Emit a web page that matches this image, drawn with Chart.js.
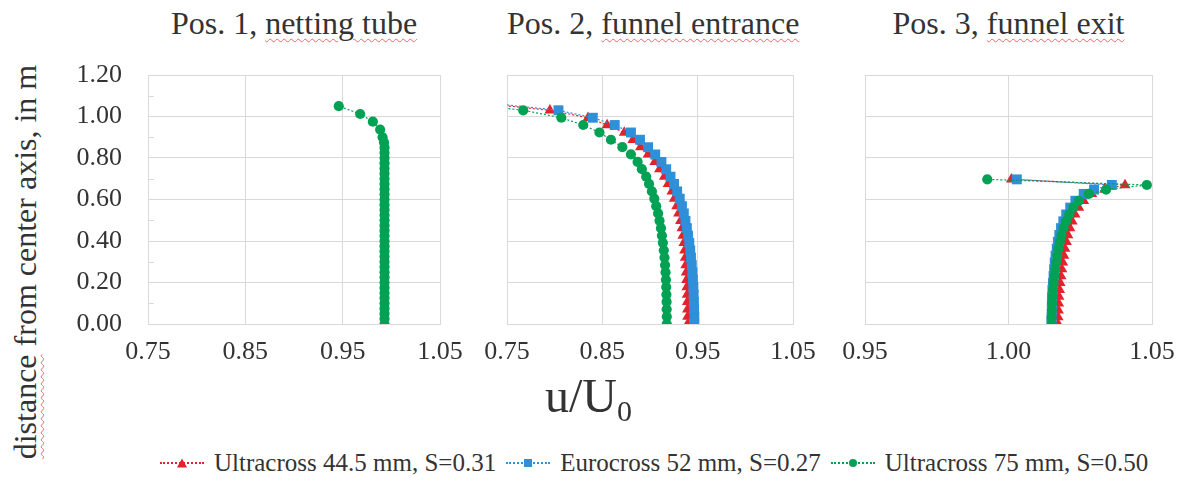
<!DOCTYPE html>
<html>
<head>
<meta charset="utf-8">
<script src="https://cdn.jsdelivr.net/npm/chart.js@4.4.1/dist/chart.umd.min.js"></script>
<style>
  body { margin: 0; background: #fff; }
  #wrap { position: relative; width: 1189px; height: 483px; font-family: "Liberation Serif", "Times New Roman", serif; color: #333; }
  .box { position: absolute; }
  .title { position: absolute; top: 5px; font-size: 32px; text-align: center; white-space: nowrap; }
  .sp { text-decoration: underline wavy #e46a6a; text-decoration-thickness: 1px; text-underline-offset: 4px; }
  #ytitle { position: absolute; left: 25px; top: 262px; font-size: 32px; white-space: nowrap; transform: translate(-50%, -50%) rotate(-90deg); }
  #xtitle { position: absolute; left: 545px; top: 368px; font-size: 48px; white-space: nowrap; }
  #xtitle sub { font-size: 30px; vertical-align: -9px; }
  #legend { position: absolute; left: 158px; top: 449px; display: flex; align-items: center; font-size: 25px; white-space: nowrap; }
  .item { display: flex; align-items: center; margin-right: 8px; }
  .mk { position: relative; width: 48px; height: 20px; margin-right: 8px; }
  .mk .ln { position: absolute; left: 2px; right: 2px; top: 9px; border-top: 2px dotted; }
  .mk .sym { position: absolute; left: 50%; top: 50%; transform: translate(-50%, -50%); }
</style>
</head>
<body>
<div id="wrap">
  <div class="title" style="left:148px;width:292px">Pos. 1, <span class="sp">netting tube</span></div>
  <div class="title" style="left:507px;width:286px">Pos. 2, <span class="sp">funnel entrance</span></div>
  <div class="title" style="left:865px;width:287px">Pos. 3, <span class="sp">funnel exit</span></div>

  <div class="box" style="left:50px;top:60px"><canvas id="c1" width="420" height="312"></canvas></div>
  <div class="box" style="left:477px;top:60px"><canvas id="c2" width="346" height="312"></canvas></div>
  <div class="box" style="left:835px;top:60px"><canvas id="c3" width="347" height="312"></canvas></div>

  <div id="ytitle"><span class="sp">distance</span> from center axis, in m</div>
  <div id="xtitle">u/U<sub>0</sub></div>
  <div id="legend"></div>
</div>
<script>
// tick labels
const yTicks = [0, 0.2, 0.4, 0.6, 0.8, 1.0, 1.2];
const yMinorTicks = [0.1, 0.3, 0.5, 0.7, 0.9, 1.1];
const xTicksPos12 = [0.75, 0.85, 0.95, 1.05];
const xTicksPos3 = [0.95, 1.00, 1.05];

// series names
const seriesNames = ['Ultracross 44.5 mm, S=0.31', 'Eurocross 52 mm, S=0.27', 'Ultracross 75 mm, S=0.50'];

// POS. 1 - netting tube (distance from axis, u/U0) - only the green profile is visible here
const yPos1 = [0.000, 0.025, 0.050, 0.075, 0.100, 0.125, 0.150, 0.175, 0.200, 0.225, 0.250, 0.275, 0.300, 0.325, 0.350,
  0.375, 0.400, 0.425, 0.450, 0.475, 0.500, 0.525, 0.550, 0.575, 0.600, 0.625, 0.650, 0.675, 0.700, 0.725, 0.750, 0.775,
  0.800, 0.825, 0.850, 0.875, 0.900, 0.937, 0.975, 1.012, 1.050];
const ultra44Pos1 = [];
const euro52Pos1 = [];
const ultra75Pos1 = [0.993, 0.993, 0.993, 0.993, 0.993, 0.993, 0.993, 0.993, 0.993, 0.993, 0.993, 0.993, 0.993, 0.993, 0.993,
  0.993, 0.993, 0.993, 0.993, 0.993, 0.993, 0.993, 0.993, 0.993, 0.993, 0.993, 0.993, 0.993, 0.993, 0.993, 0.993, 0.993,
  0.993, 0.993, 0.993, 0.9925, 0.991, 0.9885, 0.981, 0.968, 0.946];

// POS. 2 - funnel entrance
const yPos2 = [0.000, 0.036, 0.071, 0.107, 0.142, 0.178, 0.213, 0.249, 0.284, 0.320, 0.355, 0.391, 0.426, 0.462, 0.497,
  0.533, 0.568, 0.604, 0.639, 0.675, 0.710, 0.746, 0.781, 0.817, 0.852, 0.888, 0.923, 0.959, 0.994, 1.030, 1.065];
const ultra44Pos2 = [0.9395, 0.9395, 0.9394, 0.9392, 0.9390, 0.9387, 0.9384, 0.9380, 0.9375, 0.9370, 0.9363, 0.9355, 0.9345,
  0.9335, 0.9320, 0.9300, 0.9280, 0.9255, 0.9230, 0.9190, 0.9150, 0.9100, 0.9050, 0.8980, 0.8900, 0.8820, 0.8730, 0.8550,
  0.8350, 0.7950, 0.7200];
const euro52Pos2 = [0.9465, 0.9465, 0.9463, 0.9461, 0.9458, 0.9455, 0.9450, 0.9445, 0.9438, 0.9430, 0.9422, 0.9412, 0.9400,
  0.9387, 0.9372, 0.9355, 0.9335, 0.9312, 0.9285, 0.9252, 0.9215, 0.9170, 0.9120, 0.9055, 0.8980, 0.8895, 0.8800, 0.8630,
  0.8400, 0.8040, 0.7300];
const ultra75Pos2 = [0.9176, 0.9176, 0.9175, 0.9174, 0.9172, 0.9170, 0.9167, 0.9163, 0.9158, 0.9152, 0.9145, 0.9135, 0.9125,
  0.9115, 0.9100, 0.9085, 0.9065, 0.9045, 0.9020, 0.8990, 0.8960, 0.8915, 0.8870, 0.8800, 0.8710, 0.8590, 0.8470, 0.8300,
  0.8070, 0.7670, 0.7000];

// POS. 3 - funnel exit
const yPos3 = [0.000, 0.033, 0.066, 0.099, 0.132, 0.165, 0.198, 0.231, 0.264, 0.297, 0.330, 0.363, 0.396, 0.429, 0.462,
  0.495, 0.528, 0.561, 0.594, 0.627, 0.648, 0.670, 0.697];
const ultra44Pos3 = [1.0173, 1.0173, 1.0174, 1.0175, 1.0176, 1.0178, 1.0180, 1.0183, 1.0186, 1.0189, 1.0193, 1.0197, 1.0202,
  1.0207, 1.0214, 1.0222, 1.0232, 1.0245, 1.0262, 1.0290, 1.0335, 1.0406, 1.0010];
const euro52Pos3 = [1.0150, 1.0150, 1.0151, 1.0151, 1.0152, 1.0153, 1.0155, 1.0157, 1.0159, 1.0161, 1.0164, 1.0168, 1.0172,
  1.0177, 1.0183, 1.0191, 1.0201, 1.0215, 1.0233, 1.0262, 1.0298, 1.0360, 1.0029];
const ultra75Pos3 = [1.0150, 1.0150, 1.0151, 1.0152, 1.0153, 1.0155, 1.0157, 1.0160, 1.0163, 1.0166, 1.0170, 1.0174, 1.0179,
  1.0185, 1.0192, 1.0201, 1.0212, 1.0226, 1.0245, 1.0280, 1.0340, 1.0482, 0.9926];

const RED = '#e2232e';
const BLUE = '#2f8fd8';
const GREEN = '#03a153';
const GRID = '#d9d9d9';
const FONT = { family: '"Liberation Serif", "Times New Roman", serif', size: 26 };

function pts(xs, ys) {
  return xs.map((x, i) => ({ x: x, y: ys[i] }));
}

function series(label, xs, ys, color, style, radius, order) {
  return {
    label: label,
    data: pts(xs, ys),
    showLine: true,
    borderColor: color,
    borderWidth: 1.2,
    borderDash: [2, 2],
    backgroundColor: color,
    pointBackgroundColor: color,
    pointBorderColor: color,
    pointBorderWidth: 0,
    pointStyle: style,
    pointRadius: radius,
    order: order,
  };
}

// small minor tick marks inside the left edge (pos. 1 only)
const minorTicks = {
  id: 'minorTicks',
  afterDraw(chart, args, opts) {
    if (!opts.show) return;
    const ctx = chart.ctx;
    const y = chart.scales.y;
    const left = chart.chartArea.left;
    ctx.save();
    ctx.strokeStyle = GRID;
    ctx.lineWidth = 1;
    yMinorTicks.forEach((v) => {
      const py = Math.round(y.getPixelForValue(v)) + 0.5;
      ctx.beginPath();
      ctx.moveTo(left, py);
      ctx.lineTo(left + 6, py);
      ctx.stroke();
    });
    ctx.restore();
  },
};

function makeChart(id, ys, red, blue, green, xTicks, showY, yWidth) {
  new Chart(document.getElementById(id), {
    type: 'scatter',
    data: {
      datasets: [
        series(seriesNames[0], red, ys, RED, 'triangle', 6.3, 3),
        series(seriesNames[1], blue, ys, BLUE, 'rect', 7, 2),
        series(seriesNames[2], green, ys, GREEN, 'circle', 5.1, 1),
      ],
    },
    plugins: [minorTicks],
    options: {
      responsive: false,
      animation: false,
      layout: { padding: { left: 0, top: 15, right: 30, bottom: 0 } },
      plugins: { legend: { display: false }, tooltip: { enabled: false }, minorTicks: { show: showY } },
      scales: {
        x: {
          type: 'linear',
          min: xTicks[0],
          max: xTicks[xTicks.length - 1],
          afterBuildTicks: (s) => { s.ticks = xTicks.map((v) => ({ value: v })); },
          afterFit: (s) => { s.height = 48; s.paddingLeft = 0; s.paddingRight = 0; },
          ticks: { font: FONT, color: '#333', padding: 13, maxRotation: 0, autoSkip: false, callback: (v) => v.toFixed(2) },
          grid: { color: GRID, drawTicks: false },
          border: { color: GRID },
        },
        y: {
          type: 'linear',
          min: yTicks[0],
          max: yTicks[yTicks.length - 1],
          afterBuildTicks: (s) => { s.ticks = yTicks.map((v) => ({ value: v })); },
          afterFit: (s) => { s.width = yWidth; s.paddingTop = 0; s.paddingBottom = 0; },
          ticks: { display: showY, font: FONT, color: '#333', padding: 26, callback: (v) => v.toFixed(2) },
          grid: { color: GRID, drawTicks: false },
          border: { color: GRID },
        },
      },
    },
  });
}

makeChart('c1', yPos1, ultra44Pos1, euro52Pos1, ultra75Pos1, xTicksPos12, true, 98);
makeChart('c2', yPos2, ultra44Pos2, euro52Pos2, ultra75Pos2, xTicksPos12, false, 30);
makeChart('c3', yPos3, ultra44Pos3, euro52Pos3, ultra75Pos3, xTicksPos3, false, 30);

// LEGEND
const legendSyms = [
  '<div class="sym" style="width:0;height:0;border-left:5px solid transparent;border-right:5px solid transparent;border-bottom:9px solid ' + RED + '"></div>',
  '<div class="sym" style="width:8px;height:8px;background:' + BLUE + '"></div>',
  '<div class="sym" style="width:8px;height:8px;border-radius:50%;background:' + GREEN + '"></div>',
];
const legendColors = [RED, BLUE, GREEN];
const legend = document.getElementById('legend');
seriesNames.forEach((name, i) => {
  const item = document.createElement('div');
  item.className = 'item';
  item.innerHTML = '<div class="mk"><div class="ln" style="border-color:' + legendColors[i] + '"></div>' +
    legendSyms[i] + '</div><span>' + name + '</span>';
  legend.appendChild(item);
});
</script>
</body>
</html>
